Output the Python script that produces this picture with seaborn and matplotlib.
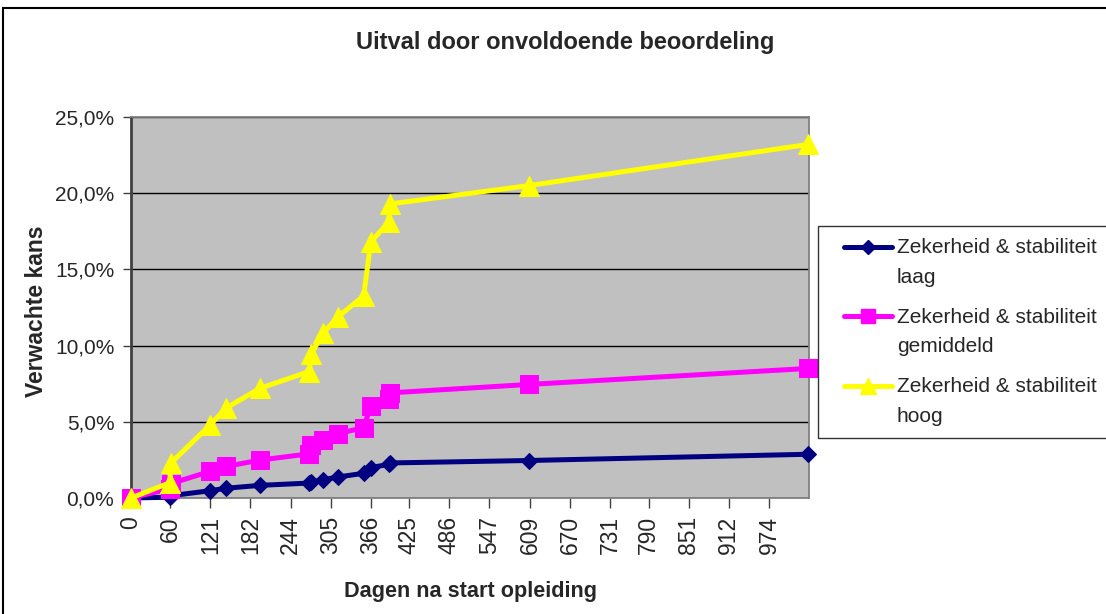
import numpy as np
import pandas as pd
import matplotlib
matplotlib.use('Agg')
import matplotlib.pyplot as plt
from matplotlib.lines import Line2D
from matplotlib.patches import Rectangle
from matplotlib.ticker import FuncFormatter
from matplotlib.legend_handler import HandlerLine2D
import seaborn as sns

# Dagen na start opleiding (x) en verwachte kans in % per reeks
dagen = [0, 59, 61, 121, 145, 197, 272, 275, 293, 316, 355, 366, 393, 396, 607, 1033]
laag = [0.0, 0.05, 0.15, 0.48, 0.64, 0.83, 0.98, 1.05, 1.2, 1.38, 1.62, 2.0, 2.2, 2.3, 2.46, 2.87]
gemiddeld = [0.0, 0.6, 0.95, 1.75, 2.07, 2.49, 2.9, 3.45, 3.8, 4.22, 4.62, 6.04, 6.5, 6.9, 7.45, 8.5]
hoog = [0.0, 1.0, 2.3, 4.8, 5.9, 7.2, 8.3, 9.45, 10.8, 11.9, 13.25, 16.8, 18.1, 19.3, 20.5, 23.2]

reeksen = ['Zekerheid & stabiliteit\nlaag',
           'Zekerheid & stabiliteit\ngemiddeld',
           'Zekerheid & stabiliteit\nhoog']
kleuren = ['#000080', '#FF00FF', '#FFFF00']
markers = ['D', 's', '^']
marker_sizes = [8.5, 13, 14]

x_ticks = [0, 60, 121, 182, 244, 305, 366, 425, 486, 547, 609, 670, 731, 790, 851, 912, 974]

df = pd.DataFrame({
    'dag': dagen * 3,
    'kans': laag + gemiddeld + hoog,
    'reeks': [reeksen[0]] * len(dagen) + [reeksen[1]] * len(dagen) + [reeksen[2]] * len(dagen),
})

sns.set_style('white')
plt.rcParams['font.family'] = ['Liberation Sans', 'DejaVu Sans']

fig = plt.figure(figsize=(11.06, 6.14), dpi=100)
ax = fig.add_axes([131 / 1106, 1 - 498 / 614, (808.5 - 131) / 1106, (498 - 117) / 614])
ax.set_facecolor('#C0C0C0')

sns.lineplot(data=df, x='dag', y='kans', hue='reeks', style='reeks',
             hue_order=reeksen, style_order=reeksen,
             palette=dict(zip(reeksen, kleuren)),
             markers=dict(zip(reeksen, markers)), dashes=False,
             estimator=None, sort=False, lw=3.6, legend=False, ax=ax,
             clip_on=False, zorder=3)

for line, ms in zip(ax.lines, marker_sizes):
    line.set_markersize(ms)
    line.set_markeredgecolor(line.get_color())
    line.set_markeredgewidth(0.75)

ax.set_xlim(0, 1034)
ax.set_ylim(0, 25)
ax.set_xticks(x_ticks)
ax.set_xticklabels([str(t) for t in x_ticks], rotation=90)
ax.set_yticks(np.arange(0, 26, 5))
ax.yaxis.set_major_formatter(FuncFormatter(lambda v, p: f'{v:.1f}%'.replace('.', ',')))
ax.tick_params(axis='y', labelsize=15, length=6, width=1, color='#404040', pad=6, left=True)
ax.tick_params(axis='x', labelsize=16.5, length=7, width=1, color='#404040', pad=6, bottom=True)

ax.yaxis.grid(True, color='black', lw=1)
ax.xaxis.grid(False)
ax.set_axisbelow(True)
for side, sp in ax.spines.items():
    sp.set_visible(True)
    sp.set_color('#808080')
    sp.set_linewidth(1.3)
ax.spines['left'].set_color('#404040')
ax.spines['left'].set_linewidth(2)

ax.set_xlabel('')
ax.set_ylabel('')

fig.text(565 / 1106, 1 - 42 / 614, 'Uitval door onvoldoende beoordeling',
         ha='center', va='center', fontsize=17, fontweight='bold')
fig.text(470 / 1106, 1 - 591 / 614, 'Dagen na start opleiding',
         ha='center', va='center', fontsize=15.6, fontweight='bold')
fig.text(37 / 1106, 1 - 311 / 614, 'Verwachte kans', rotation=90,
         ha='center', va='center', fontsize=16.5, fontweight='bold')

handles = [Line2D([0], [0], color=c, lw=3.6, marker=m, markersize=ms * 0.8,
                  markeredgecolor=c) for c, m, ms in zip(kleuren, markers, marker_sizes)]
leg = fig.legend(handles, reeksen, loc='upper left',
                 bbox_to_anchor=(818 / 1106, 1 - 226 / 614),
                 frameon=True, fancybox=False, edgecolor='black', fontsize=15,
                 handlelength=2.95, handletextpad=0.24, borderpad=0.6,
                 labelspacing=1.0, borderaxespad=0,
                 handler_map={Line2D: HandlerLine2D(xpad=0.65)})
leg.get_frame().set_linewidth(1)
for t in leg.get_texts():
    t.set_linespacing(1.7)
# lijnsymbool op hoogte van de eerste tekstregel
for h in leg.legend_handles:
    h.set_ydata(np.asarray(h.get_ydata()) + 11.5)

# kader om de hele grafiek
fig.patches.append(Rectangle((3 / 1106, -0.1), 1.2, 1.1 - 8 / 614, fill=False,
                             edgecolor='black', lw=1.5, transform=fig.transFigure))

fig.savefig('out.png', dpi=100, facecolor='white')
